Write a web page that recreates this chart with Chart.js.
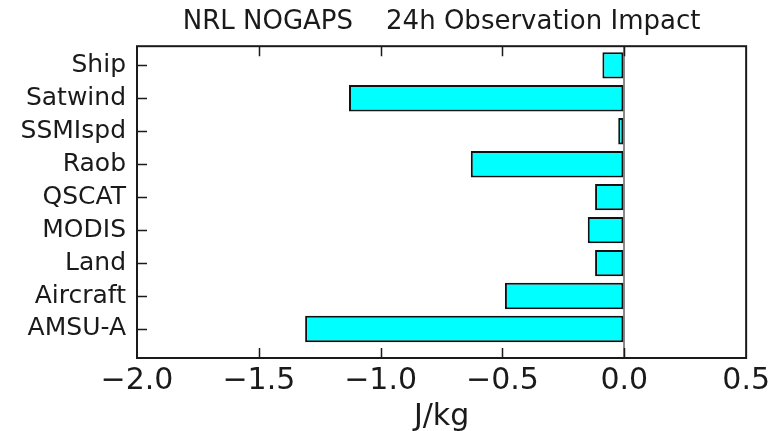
<!DOCTYPE html>
<html lang="en">
<head>
    <meta charset="UTF-8">
    <title>NRL NOGAPS 24h Observation Impact</title>
    <script src="https://cdn.jsdelivr.net/npm/chart.js"></script>
    <style>
        body {
            margin: 0;
            padding: 0;
            background-color: #fff;
        }
        .chart-container {
            width: 775px;
            height: 431px;
        }
    </style>
</head>
<body>
    <div class="chart-container">
        <canvas id="impactChart"></canvas>
    </div>
    <script>
        // bottom to top, as in the picture
        const categories = ['AMSU-A', 'Aircraft', 'Land', 'MODIS', 'QSCAT', 'Raob', 'SSMIspd', 'Satwind', 'Ship'];
        const impact = [-1.31, -0.49, -0.12, -0.15, -0.12, -0.63, -0.025, -1.13, -0.09];
        const xTicks = [-2.0, -1.5, -1.0, -0.5, 0.0, 0.5];

        const font = 'DejaVu Sans';
        const ink = '#1a1a1a';

        function fmt(v) {
            return (v < 0 ? '\u2212' : '') + Math.abs(v).toFixed(1);
        }

        // box round the plot and inward pointing ticks, matplotlib style
        const framePlugin = {
            id: 'frame',
            afterDraw(chart) {
                const { ctx, chartArea: a, scales } = chart;
                ctx.save();
                ctx.strokeStyle = ink;
                ctx.lineWidth = 1.5;
                ctx.beginPath();
                xTicks.slice(1, -1).forEach(v => {
                    const x = Math.round(scales.x.getPixelForValue(v)) + 0.5;
                    ctx.moveTo(x, a.bottom);
                    ctx.lineTo(x, a.bottom - 10);
                    ctx.moveTo(x, a.top);
                    ctx.lineTo(x, a.top + 10);
                });
                categories.forEach((c, i) => {
                    const y = Math.round(scales.y.getPixelForValue(i)) + 0.5;
                    ctx.moveTo(a.left, y);
                    ctx.lineTo(a.left + 10, y);
                });
                ctx.stroke();
                ctx.lineWidth = 2;
                ctx.strokeRect(a.left, a.top, a.right - a.left, a.bottom - a.top);
                ctx.restore();
            }
        };

        const ctx = document.getElementById('impactChart').getContext('2d');
        const chart = new Chart(ctx, {
            type: 'bar',
            data: {
                datasets: [{
                    data: impact.map((v, i) => ({ x: v, y: i })),
                    backgroundColor: '#00ffff',
                    borderColor: '#111',
                    borderWidth: 2,
                    borderSkipped: false,
                    barPercentage: 0.8,
                    categoryPercentage: 1.0
                }]
            },
            options: {
                indexAxis: 'y',
                responsive: true,
                maintainAspectRatio: false,
                animation: false,
                layout: {
                    padding: { left: 0, right: 27, top: 0, bottom: 0 }
                },
                scales: {
                    x: {
                        type: 'linear',
                        min: -2.0,
                        max: 0.5,
                        afterBuildTicks: s => { s.ticks = xTicks.map(v => ({ value: v })); },
                        afterFit: s => { s.height = 73; },
                        ticks: {
                            callback: v => fmt(v),
                            font: { family: font, size: 30 },
                            color: ink,
                            padding: 5,
                            maxRotation: 0
                        },
                        grid: {
                            drawTicks: false,
                            color: c => (c.tick && c.tick.value === 0 ? '#8a8a8a' : 'rgba(0,0,0,0)'),
                            lineWidth: 2
                        },
                        border: { display: false },
                        title: {
                            display: true,
                            text: 'J/kg',
                            font: { family: font, size: 30, lineHeight: 0.9 },
                            color: ink,
                            padding: 0
                        }
                    },
                    y: {
                        type: 'linear',
                        offset: false,
                        min: -0.88,
                        max: 8.58,
                        afterBuildTicks: s => { s.ticks = categories.map((c, i) => ({ value: i })); },
                        afterFit: s => { s.width = 137; },
                        ticks: {
                            callback: v => categories[v],
                            font: { family: font, size: 25 },
                            color: ink,
                            padding: 11
                        },
                        grid: { display: false, drawTicks: false },
                        border: { display: false }
                    }
                },
                plugins: {
                    legend: { display: false },
                    tooltip: { enabled: false },
                    title: {
                        display: true,
                        fullSize: false,
                        text: 'NRL NOGAPS    24h Observation Impact',
                        font: { family: font, size: 26, weight: 'normal' },
                        color: ink,
                        padding: { top: 7, bottom: 8 }
                    }
                }
            },
            plugins: [framePlugin]
        });
    </script>
</body>
</html>
